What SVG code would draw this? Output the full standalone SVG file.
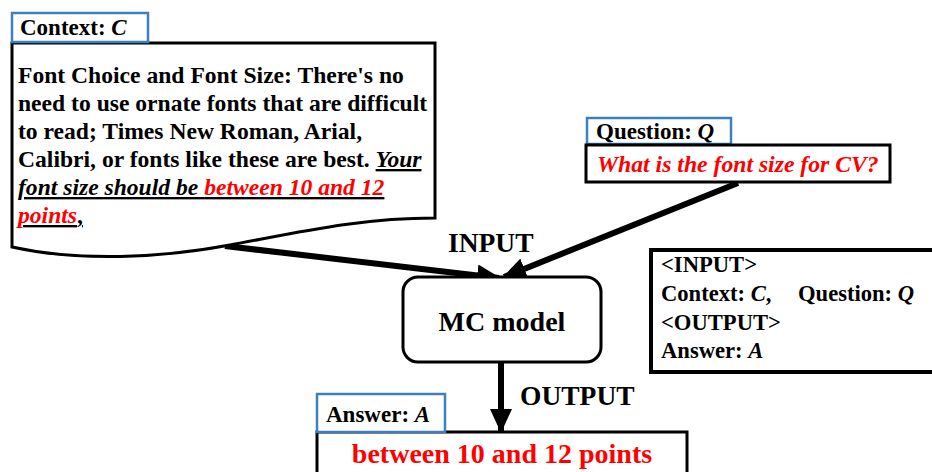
<svg xmlns="http://www.w3.org/2000/svg" width="932" height="472" viewBox="0 0 932 472">
<defs>
<style>
.t{font-family:"Liberation Serif","Times New Roman",serif;font-weight:bold;fill:#000}
.r{fill:#FF0000}
.i{font-style:italic}
.u{text-decoration:underline}
.lbl{fill:#fff;stroke:#3F7FC0;stroke-width:2.5}
.box{fill:#fff;stroke:#000;stroke-width:3}
.arr{stroke:#000;stroke-width:6;fill:none}
</style>
<marker id="ah" markerUnits="userSpaceOnUse" markerWidth="24" markerHeight="22" refX="22" refY="11" orient="auto">
<path d="M0,0 L24,11 L0,22 z" fill="#000"/>
</marker>
</defs>
<rect width="932" height="472" fill="#fff"/>

<g id="connectors">
<line class="arr" x1="225" y1="246" x2="499" y2="278" marker-end="url(#ah)"/>
<line class="arr" x1="738" y1="183" x2="504" y2="277" marker-end="url(#ah)"/>
<line class="arr" x1="501" y1="362" x2="501" y2="431" marker-end="url(#ah)"/>
</g>

<g id="context">
<path class="box" d="M12,43 L435,43 L435,218 C360,218 300,232 230,245 C160,258 80,262 12,247 Z"/>
<rect class="lbl" x="12" y="13" width="136" height="29"/>
<text class="t" x="20" y="35" font-size="23">Context: <tspan class="i">C</tspan></text>
<text class="t" font-size="23.6">
<tspan x="18" y="83">Font Choice and Font Size: There's no</tspan>
<tspan x="18" y="111">need to use ornate fonts that are difficult</tspan>
<tspan x="18" y="139">to read; Times New Roman, Arial,</tspan>
<tspan x="18" y="167">Calibri, or fonts like these are best. <tspan class="i u">Your</tspan></tspan>
<tspan x="18" y="195" class="i u">font size should be <tspan class="r">between 10 and 12</tspan></tspan>
<tspan x="18" y="223" class="u"><tspan class="i r">points</tspan>,</tspan>
</text>
</g>

<g id="question">
<rect class="lbl" x="587" y="118" width="144" height="26"/>
<text class="t" x="596" y="139" font-size="23">Question: <tspan class="i">Q</tspan></text>
<rect class="box" x="586" y="145" width="304" height="37"/>
<text class="t r i" x="597" y="172" font-size="23.7">What is the font size for CV?</text>
</g>

<g id="input-label">
<text class="t" x="448" y="252" font-size="27.5">INPUT</text>
</g>

<g id="mc-model">
<rect class="box" x="403" y="277" width="198" height="85" rx="15" ry="15"/>
<text class="t" x="502" y="331" font-size="28" text-anchor="middle">MC model</text>
</g>

<g id="output-label">
<text class="t" x="520" y="405" font-size="27.5">OUTPUT</text>
</g>

<g id="answer">
<rect class="box" x="317" y="432" width="370" height="50"/>
<rect class="lbl" x="317" y="394" width="128" height="38"/>
<text class="t" x="326" y="422" font-size="23">Answer: <tspan class="i">A</tspan></text>
<text class="t r" x="502" y="463" font-size="28" text-anchor="middle">between 10 and 12 points</text>
</g>

<g id="format">
<rect x="651" y="250" width="290" height="122" fill="#fff" stroke="#000" stroke-width="4"/>
<text class="t" font-size="22.6">
<tspan x="661" y="272">&lt;INPUT&gt;</tspan>
<tspan x="661" y="301">Context: <tspan class="i">C</tspan>,</tspan><tspan x="798" y="301">Question: <tspan class="i">Q</tspan></tspan>
<tspan x="661" y="330">&lt;OUTPUT&gt;</tspan>
<tspan x="661" y="358">Answer: <tspan class="i">A</tspan></tspan>
</text>
</g>
</svg>
